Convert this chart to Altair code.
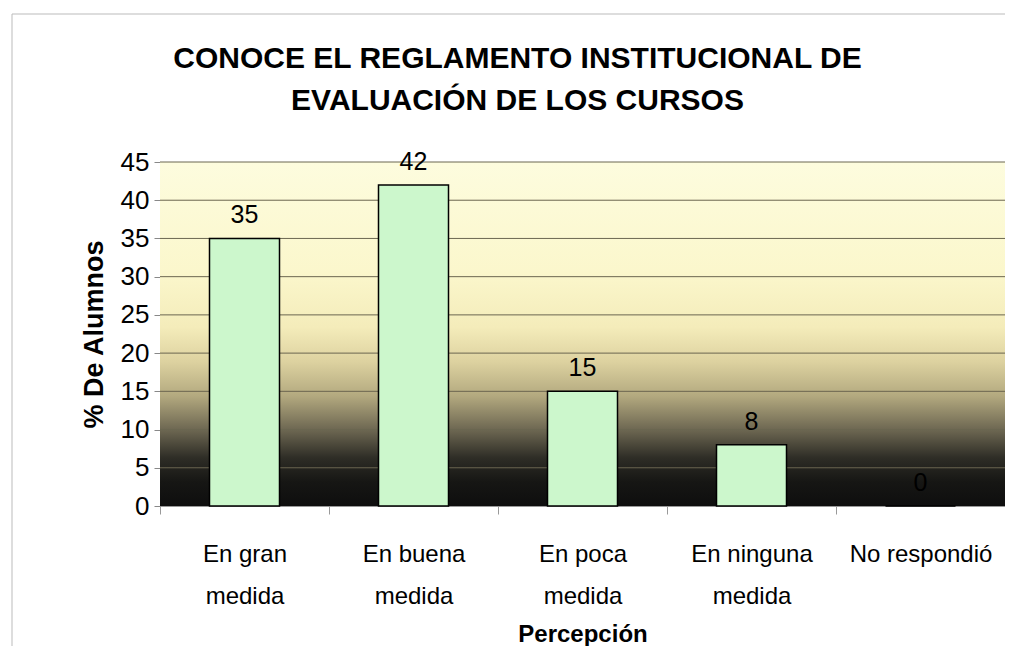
import altair as alt
import pandas as pd

categories = ["En gran\nmedida", "En buena\nmedida", "En poca\nmedida", "En ninguna\nmedida", "No respondió"]
values = [35, 42, 15, 8, 0]
y_ticks = [0, 5, 10, 15, 20, 25, 30, 35, 40, 45]
title_lines = ["CONOCE EL REGLAMENTO INSTITUCIONAL DE", "EVALUACIÓN DE LOS CURSOS"]

df = pd.DataFrame({"cat": categories, "val": values})
grid_df = pd.DataFrame({"val": y_ticks[1:]})

W, H = 845, 344

gradient = alt.Gradient(
    gradient="linear", x1=0, x2=0, y1=0, y2=1,
    stops=[
        alt.GradientStop(offset=0.0, color="#fdfcde"),
        alt.GradientStop(offset=0.32, color="#fbf7cc"),
        alt.GradientStop(offset=0.48, color="#f4ecba"),
        alt.GradientStop(offset=0.58, color="#ddd2a0"),
        alt.GradientStop(offset=0.68, color="#b3a97f"),
        alt.GradientStop(offset=0.78, color="#6c6651"),
        alt.GradientStop(offset=0.86, color="#2e2d26"),
        alt.GradientStop(offset=0.93, color="#161614"),
        alt.GradientStop(offset=1.0, color="#0e0e0e"),
    ],
)

bg_df = pd.DataFrame({"k": [0]})
frame = alt.Chart(bg_df).mark_rect(fill=None, stroke="#bbbbbb", strokeWidth=1).encode(
    x=alt.value(-148), x2=alt.value(W + 20), y=alt.value(-148), y2=alt.value(H + 152)
)
background = alt.Chart(bg_df).mark_rect(fill=gradient).encode(
    x=alt.value(0), x2=alt.value(W), y=alt.value(0), y2=alt.value(H)
)

x_enc = alt.X(
    "cat:N", sort=categories,
    scale=alt.Scale(paddingInner=0, paddingOuter=0),
    axis=alt.Axis(
        title="Percepción", titleFont="Liberation Sans", titleFontSize=24, titleFontWeight="bold",
        titleColor="black", titlePadding=14,
        labelFont="Liberation Sans", labelFontSize=24, labelColor="black",
        labelAngle=0, labelPadding=40, labelLineHeight=42, labelBaseline="middle",
        labelOverlap=False, labelLimit=200,
        labelExpr="split(datum.label, '\\n')",
        tickBand="extent", tickSize=8, tickColor="#999999", domainColor="#999999",
        grid=False,
    ),
)
y_scale = alt.Scale(domain=[0, 45], nice=False)
y_enc = alt.Y(
    "val:Q",
    scale=y_scale,
    axis=alt.Axis(
        values=y_ticks, title="%  De Alumnos", titleFont="Liberation Sans", titleFontSize=27,
        titleFontWeight="bold", titleColor="black", titlePadding=12,
        labelFont="Liberation Sans", labelFontSize=26, labelColor="black", labelPadding=5,
        labelOverlap=False,
        tickSize=6, tickColor="#888888", domainColor="#888888",
        grid=False,
    ),
)

gridlines = alt.Chart(grid_df).mark_rule(color="#6b6650", strokeWidth=1).encode(
    y=y_enc, x=alt.value(0), x2=alt.value(W)
)

base = alt.Chart(df).encode(x=x_enc, y=y_enc)
bars = base.mark_bar(size=70, fill="#ccf7cc", stroke="black", strokeWidth=1.5)
labels = base.mark_text(
    baseline="bottom", dy=-10, font="Liberation Sans", fontSize=25, color="black"
).encode(text="val:Q")

chart = alt.layer(frame, background, gridlines, bars, labels).properties(
    width=W, height=H,
    title=alt.TitleParams(
        text=title_lines, font="Liberation Sans", fontSize=30, fontWeight="bold",
        color="black", anchor="middle", lineHeight=42, offset=-102, frame="group", dx=-65,
    ),
    autosize=alt.AutoSizeParams(type="none"),
    padding={"left": 152, "top": 154, "right": 0, "bottom": 140},
).configure_view(stroke=None).configure(background="white")

chart.save("out.html", embed_options={"renderer": "svg", "actions": False})
